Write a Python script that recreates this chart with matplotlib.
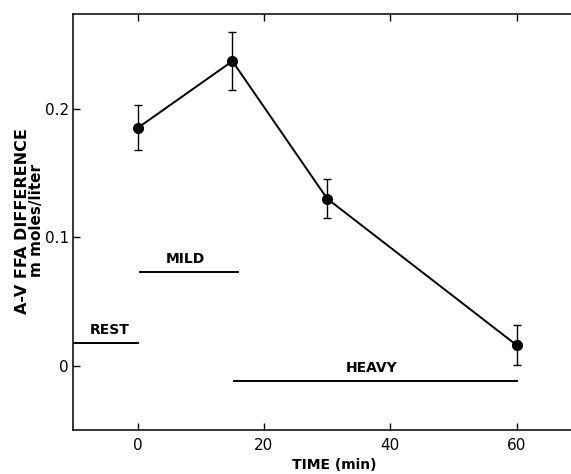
import matplotlib
matplotlib.use("Agg")
import matplotlib.pyplot as plt

plt.rcParams['font.family'] = ['DejaVu Sans']

# A-V FFA difference vs time
time_min = [0, 15, 30, 60]
ffa_diff = [0.185, 0.237, 0.130, 0.016]
ffa_err = [0.0175, 0.0225, 0.015, 0.0155]

# exercise periods: (label, start, end, level)
phase_labels = ["REST", "MILD", "HEAVY"]
phase_start = [-10.3, 0.3, 15.3]
phase_end = [0, 15.9, 60]
phase_level = [0.018, 0.073, -0.012]

x_ticks = [0, 20, 40, 60]
y_ticks = [0, 0.1, 0.2]
y_tick_labels = ["0", "0.1", "0.2"]


def main():
    fig = plt.figure(figsize=(5.71, 4.74), dpi=100)
    ax = fig.add_axes([0.1278, 0.0928, 0.8722, 0.8777])

    ax.errorbar(time_min, ffa_diff, yerr=ffa_err, color='black', lw=1.4,
                marker='o', markersize=7, capsize=3, elinewidth=1.0, capthick=1.0)

    for lab, s, e, lev in zip(phase_labels, phase_start, phase_end, phase_level):
        ax.plot([s, e], [lev, lev], color='black', lw=1.4)

    ax.text(-4.4, 0.0225, "REST", ha='center', va='bottom', fontsize=10, weight='bold')
    ax.text(7.5, 0.0775, "MILD", ha='center', va='bottom', fontsize=10, weight='bold')
    ax.text(37.0, -0.0075, "HEAVY", ha='center', va='bottom', fontsize=10, weight='bold')

    ax.set_xlim(-10.24, 68.6)
    ax.set_ylim(-0.050, 0.2737)
    ax.set_xticks(x_ticks)
    ax.set_yticks(y_ticks)
    ax.set_yticklabels(y_tick_labels)
    ax.tick_params(direction='in', length=5, width=1, labelsize=11,
                   top=True, right=False, pad=3)
    ax.tick_params(axis='x', pad=6)
    ax.spines['right'].set_visible(False)
    for sp in ['left', 'top', 'bottom']:
        ax.spines[sp].set_linewidth(1.1)

    fig.text(0.040, 0.534, "A-V FFA DIFFERENCE", rotation=90, ha='center', va='center',
             fontsize=11.5, weight='bold')
    fig.text(0.064, 0.534, "m moles/liter", rotation=90, ha='center', va='center',
             fontsize=11, weight='bold')
    fig.text(0.585, 0.018, "TIME (min)", ha='center', va='center', fontsize=10, weight='bold')

    fig.savefig("out.png", dpi=100)


if __name__ == "__main__":
    main()
